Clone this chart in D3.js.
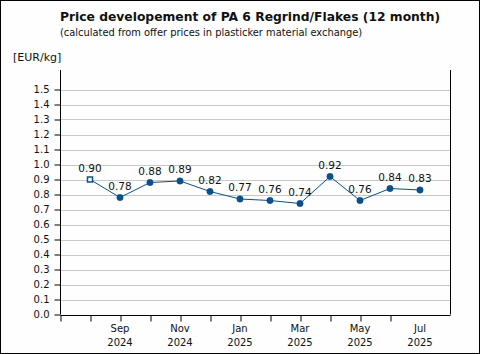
<!DOCTYPE html>
<html>
<head>
<meta charset="utf-8">
<script src="https://cdn.jsdelivr.net/npm/d3@7"></script>
<style>
  html, body { margin: 0; padding: 0; background: #fdfefd; }
  svg text { font-family: "DejaVu Sans", Verdana, sans-serif; fill: #111; }
</style>
</head>
<body>
<div id="graphic"></div>
<script>
// months shown on the x axis (Aug 2024 .. Jul 2025)
const months = ['Aug 2024', 'Sep 2024', 'Oct 2024', 'Nov 2024', 'Dec 2024', 'Jan 2025',
  'Feb 2025', 'Mar 2025', 'Apr 2025', 'May 2025', 'Jun 2025', 'Jul 2025'];
const prices = [0.90, 0.78, 0.88, 0.89, 0.82, 0.77, 0.76, 0.74, 0.92, 0.76, 0.84, 0.83];
const yTicks = [0, 0.1, 0.2, 0.3, 0.4, 0.5, 0.6, 0.7, 0.8, 0.9, 1.0, 1.1, 1.2, 1.3, 1.4, 1.5];
const titleText = 'Price developement of PA 6 Regrind/Flakes (12 month)';
const subtitleText = '(calculated from offer prices in plasticker material exchange)';
const unitText = '[EUR/kg]';

const width = 480, height = 354;
const lineColour = '#0b4f8c';

const svg = d3.select('#graphic')
  .append('svg')
  .attr('width', width)
  .attr('height', height);

// frame
svg.append('rect')
  .attr('x', 0.5).attr('y', 0.5)
  .attr('width', width - 1).attr('height', height - 1)
  .attr('fill', '#fdfefd')
  .attr('stroke', '#000').attr('stroke-width', 1);

// scales: index -1 and 12 are the empty slots either side
const x = d3.scaleLinear().domain([-1, 12]).range([60, 450]);
const y = d3.scaleLinear().domain([0, 1.5]).range([314.5, 89.5]);
const plotTop = 70;

// grid lines
svg.append('g')
  .selectAll('line')
  .data(yTicks.filter(d => d > 0))
  .join('line')
  .attr('x1', x(-1)).attr('x2', x(12))
  .attr('y1', d => Math.round(y(d)) + 0.5)
  .attr('y2', d => Math.round(y(d)) + 0.5)
  .attr('stroke', '#c8c8c8').attr('stroke-width', 1);

// right border of plot
svg.append('line')
  .attr('x1', x(12) + 0.5).attr('x2', x(12) + 0.5)
  .attr('y1', plotTop).attr('y2', y(0))
  .attr('stroke', '#000');

// y axis
const yAxis = svg.append('g')
  .attr('transform', `translate(${x(-1) + 0.5},0)`)
  .call(d3.axisLeft(y).tickValues(yTicks).tickFormat(d3.format('.1f')).tickSize(6).tickPadding(5));
yAxis.select('.domain').attr('d', `M-0,${plotTop}V${y(0)}`);
yAxis.selectAll('text').style('font-size', '10px');

// x axis: ticks at slot boundaries, labels every second month
const xAxis = svg.append('g')
  .attr('transform', `translate(0.5,${Math.round(y(0)) + 0.5})`)
  .call(d3.axisBottom(x).tickValues(d3.range(-1, 11)).tickFormat('').tickSize(6));
xAxis.select('.domain').attr('d', `M${x(-1)},0H${x(12)}`);

const xLabels = svg.append('g')
  .selectAll('text')
  .data(months.map((m, i) => ({ m, i })).filter(d => d.i % 2 === 1))
  .join('text')
  .attr('x', d => x(d.i))
  .attr('y', 332)
  .attr('text-anchor', 'middle')
  .style('font-size', '10px');
xLabels.append('tspan').attr('x', d => x(d.i)).text(d => d.m.split(' ')[0]);
xLabels.append('tspan').attr('x', d => x(d.i)).attr('dy', 14).text(d => d.m.split(' ')[1]);

// line
svg.append('path')
  .datum(prices)
  .attr('fill', 'none')
  .attr('stroke', lineColour)
  .attr('stroke-width', 1)
  .attr('d', d3.line().x((d, i) => x(i)).y(d => y(d)));

// markers (first one hollow)
svg.append('g')
  .selectAll('path')
  .data(prices)
  .join('path')
  .attr('transform', (d, i) => `translate(${x(i)},${y(d)})`)
  .attr('d', (d, i) => i === 0 ? d3.symbol(d3.symbolSquare, 25)() : d3.symbol(d3.symbolCircle, 32)())
  .attr('fill', (d, i) => i === 0 ? '#fdfefd' : lineColour)
  .attr('stroke', lineColour)
  .attr('stroke-width', (d, i) => i === 0 ? 1.5 : 0.5);

// data labels
svg.append('g')
  .selectAll('text')
  .data(prices)
  .join('text')
  .attr('x', (d, i) => x(i))
  .attr('y', d => y(d) - 8)
  .attr('text-anchor', 'middle')
  .style('font-size', '10.5px')
  .text(d => d3.format('.2f')(d));

// titles
svg.append('text')
  .attr('x', 60).attr('y', 21)
  .style('font-size', '12.3px').style('font-weight', 'bold')
  .text(titleText);
svg.append('text')
  .attr('x', 60).attr('y', 36)
  .style('font-size', '9.9px')
  .text(subtitleText);
svg.append('text')
  .attr('x', 13).attr('y', 61)
  .style('font-size', '11px')
  .text(unitText);
</script>
</body>
</html>
